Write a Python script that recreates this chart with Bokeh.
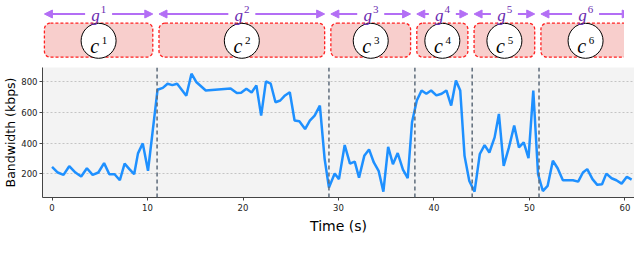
from bokeh.plotting import figure
from bokeh.layouts import column
from bokeh.models import Range1d, Span, Arrow, NormalHead, ColumnDataSource
from bokeh.core.properties import value
from bokeh.embed import file_html
from bokeh.resources import INLINE

# ---------------- data ----------------
time_s = [0.0, 0.6, 1.2, 1.8, 2.45, 3.05, 3.65, 4.25, 4.85, 5.45, 6.0, 6.55, 7.1, 7.6, 8.1,
          8.6, 9.0, 9.5, 10.05, 11.05, 11.6, 12.1, 12.6, 13.1, 14.06, 14.6, 15.1, 16.1,
          18.7, 19.35, 19.8, 20.35, 20.9, 21.4, 21.9, 22.4, 22.9, 23.4, 23.9, 24.4, 24.9,
          25.4, 25.9, 26.5, 27.0, 27.5, 28.05, 28.55, 29.0, 29.6, 30.05, 30.65, 31.2, 31.7,
          32.15, 32.7, 33.2, 33.7, 34.2, 34.7, 35.2, 35.7, 36.2, 36.75, 37.25, 37.7, 38.2,
          38.7, 39.2, 39.7, 40.25, 40.8, 41.3, 41.8, 42.3, 42.75, 43.2, 43.7, 44.25, 44.8,
          45.3, 45.8, 46.35, 46.8, 47.3, 47.85, 48.4, 48.9, 49.4, 49.9, 50.4, 50.9, 51.4,
          51.9, 52.45, 52.95, 53.5, 54.0, 54.55, 55.1, 55.6, 56.05, 56.6, 57.1, 57.6, 58.05,
          58.6, 59.1, 59.65, 60.2, 60.7]
bandwidth_kbps = [246, 209, 194, 250, 209, 183, 237, 194, 209, 270, 198, 198, 159, 267, 231,
                  198, 333, 398, 220, 746, 758, 785, 776, 785, 707, 850, 796, 741,
                  754, 724, 726, 752, 728, 774, 578, 800, 785, 665, 676, 709, 730,
                  546, 541, 491, 546, 578, 643, 296, 111, 202, 166, 387, 267, 280,
                  176, 317, 359, 274, 220, 85, 376, 263, 335, 228, 172, 535, 676,
                  741, 720, 741, 709, 720, 741, 643, 806, 741, 317, 154, 85, 329,
                  387, 339, 437, 589, 252, 372, 513, 372, 404, 302, 741, 198, 89,
                  122, 285, 237, 159, 159, 159, 150, 209, 231, 166, 129, 133, 202,
                  172, 159, 137, 181, 163]
change_points = [11, 29, 38, 44, 51]
segment_ids = ["1", "2", "3", "4", "5", "6"]
x_ticks = [0, 10, 20, 30, 40, 50, 60]
y_ticks = [200, 400, 600, 800]
x_limits = (-1, 61)
y_limits = (47, 890)

# ---------------- style ----------------
FRAME_W = 592
LEFT = 32
RIGHT = 0
TOP_H = 66
PURPLE_ARROW = "#b36ef5"
PURPLE_TEXT = "#6a2bb0"
SERIF = value("Liberation Serif")
SANS = "DejaVu Sans"

x_range = Range1d(*x_limits)

# ---------------- top annotation strip ----------------
top = figure(frame_width=FRAME_W, frame_height=TOP_H, x_range=x_range, y_range=Range1d(0, TOP_H),
             output_backend="svg", toolbar_location=None,
             x_axis_location=None, y_axis_location=None,
             min_border_left=LEFT, min_border_right=RIGHT, min_border_top=0, min_border_bottom=0)
top.grid.visible = False
top.outline_line_color = None
top.background_fill_color = "white"
top.border_fill_color = "white"

starts = [x_limits[0]] + change_points
ends = change_points + [x_limits[1]]
box_left = [s + 0.2 for s in starts]
box_right = [e - 0.45 for e in ends]
centers = [(l + r) / 2 for l, r in zip(box_left, box_right)]
widths = [r - l for l, r in zip(box_left, box_right)]
n = len(centers)

BOX_Y, BOX_H = 26.3, 34
box_kw = dict(fill_color="#f8cecc", line_color="#ff2020", line_dash="3 2", line_width=1.3)
try:
    top.rect(x=centers, y=[BOX_Y] * n, width=widths, height=[BOX_H] * n, border_radius=6, **box_kw)
except AttributeError:
    top.rect(x=centers, y=[BOX_Y] * n, width=widths, height=[BOX_H] * n, **box_kw)

top.scatter(x=centers, y=[25.7] * n, size=35, marker="circle",
            fill_color="white", line_color="black", line_width=1)
top.text(x=centers, y=[21] * n, text=["c"] * n, x_offset=-4,
         text_font=SERIF, text_font_style="italic", text_font_size="20px",
         text_align="center", text_baseline="alphabetic", text_color="black")
top.text(x=centers, y=[26.5] * n, text=segment_ids, x_offset=6,
         text_font=SERIF, text_font_size="11px",
         text_align="center", text_baseline="alphabetic", text_color="black")

ARROW_Y = 52.5
arrow_src = ColumnDataSource(dict(x0=box_left, x1=box_right, y=[ARROW_Y] * n))
top.add_layout(Arrow(source=arrow_src, x_start="x0", y_start="y", x_end="x1", y_end="y",
                     start=NormalHead(size=8, fill_color=PURPLE_ARROW, line_color=PURPLE_ARROW),
                     end=NormalHead(size=8, fill_color=PURPLE_ARROW, line_color=PURPLE_ARROW),
                     line_color=PURPLE_ARROW, line_width=2))
bg = top.rect(x=centers, y=[ARROW_Y] * n, width=27, height=14,
              width_units="screen", height_units="screen",
              fill_color="white", line_color=None)
bg.level = "overlay"
g1 = top.text(x=centers, y=[51] * n, text=["g"] * n, x_offset=-3,
              text_font=SERIF, text_font_style="italic", text_font_size="17px",
              text_align="center", text_baseline="alphabetic", text_color=PURPLE_TEXT)
g1.level = "overlay"
g2 = top.text(x=centers, y=[57.5] * n, text=segment_ids, x_offset=5,
              text_font=SERIF, text_font_size="11px",
              text_align="center", text_baseline="alphabetic", text_color=PURPLE_TEXT)
g2.level = "overlay"

# ---------------- main chart ----------------
p = figure(frame_width=FRAME_W, frame_height=130, x_range=x_range, y_range=Range1d(*y_limits),
           output_backend="svg", toolbar_location=None,
           min_border_left=LEFT, min_border_right=RIGHT, min_border_top=1, min_border_bottom=41)
p.background_fill_color = "#f3f3f3"
p.border_fill_color = "white"
p.outline_line_color = None

p.line(time_s, bandwidth_kbps, line_color="#1e90ff", line_width=2.5)
for cp in change_points:
    p.add_layout(Span(location=cp, dimension="height", line_color="#5d6b7a",
                      line_dash="4 3", line_width=1.5))

p.xgrid.visible = False
p.ygrid.ticker = y_ticks
p.ygrid.grid_line_color = "#c4c4c4"
p.ygrid.grid_line_dash = "2 2"
p.ygrid.grid_line_width = 1

p.xaxis.ticker = x_ticks
p.yaxis.ticker = y_ticks
p.xaxis.axis_label = "Time (s)"
p.yaxis.axis_label = "Bandwidth (kbps)"
for ax in (p.xaxis[0], p.yaxis[0]):
    ax.axis_line_color = "#444444"
    ax.major_tick_line_color = "#444444"
    ax.major_tick_out = 3
    ax.major_tick_in = 0
    ax.minor_tick_line_color = None
    ax.major_label_text_font = SANS
    ax.major_label_text_font_size = "8.5px"
    ax.major_label_text_color = "#222222"
    ax.axis_label_text_font = SANS
    ax.axis_label_text_font_style = "normal"
    ax.axis_label_text_color = "black"
p.xaxis.axis_label_text_font_size = "14px"
p.yaxis.axis_label_text_font_size = "12.5px"
p.xaxis.major_label_standoff = 3
p.yaxis.major_label_standoff = 2
p.xaxis.axis_label_standoff = 4
p.yaxis.axis_label_standoff = 0

layout = column(top, p, spacing=0)
open("out.html", "w").write(file_html(layout, INLINE))
